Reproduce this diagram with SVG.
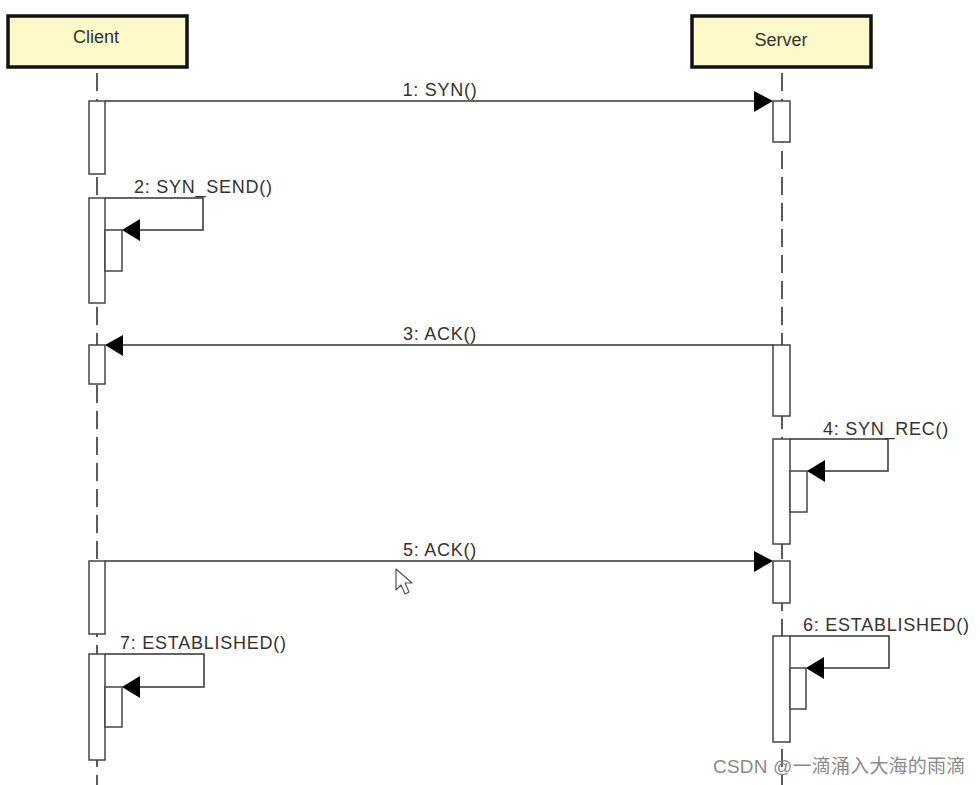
<svg xmlns="http://www.w3.org/2000/svg" width="980" height="785" viewBox="0 0 980 785">
<style>
.box{fill:#fdf9c8;stroke:#111;stroke-width:3.5}
.bt{font-family:"Liberation Sans",Arial,sans-serif;font-size:18px;fill:#333}
.lbl{font-family:"Liberation Sans",Arial,sans-serif;font-size:18px;fill:#333;letter-spacing:0.75px}
.life{stroke:#333;stroke-width:1.6;stroke-dasharray:18 8;fill:none}
.act{fill:#fff;stroke:#444;stroke-width:1.5}
.msg{fill:none;stroke:#333;stroke-width:1.5}
.head{fill:#000}
.wm{font-family:"Liberation Sans","Noto Sans CJK SC",sans-serif;font-size:19px;fill:#8a8a8a;letter-spacing:0.2px}
</style>
<rect width="980" height="785" fill="#fff"/>
<g id="lifelines">
<line class="life" x1="97" y1="73" x2="97" y2="785"/>
<line class="life" x1="782" y1="73" x2="782" y2="785"/>
</g>
<g id="client">
<rect class="box" x="8" y="16" width="179" height="51"/>
<text class="bt" x="96" y="43" text-anchor="middle">Client</text>
</g>
<g id="server">
<rect class="box" x="692" y="16" width="179" height="51"/>
<text class="bt" x="781" y="46" text-anchor="middle">Server</text>
</g>
<g id="activations">
<rect class="act" x="89" y="101" width="16" height="73"/>
<rect class="act" x="89" y="198" width="16" height="105"/>
<rect class="act" x="105" y="230" width="17" height="41"/>
<rect class="act" x="89" y="345" width="16" height="39"/>
<rect class="act" x="89" y="561" width="16" height="73"/>
<rect class="act" x="89" y="654" width="16" height="106"/>
<rect class="act" x="105" y="687" width="17" height="40"/>
<rect class="act" x="773" y="101" width="17" height="41"/>
<rect class="act" x="773" y="345" width="17" height="71"/>
<rect class="act" x="773" y="439" width="17" height="105"/>
<rect class="act" x="790" y="471" width="17" height="41"/>
<rect class="act" x="773" y="561" width="17" height="42"/>
<rect class="act" x="773" y="636" width="17" height="106"/>
<rect class="act" x="790" y="668" width="16" height="41"/>
</g>
<g id="connectors">
<line class="msg" x1="105" y1="101" x2="760" y2="101"/>
<polygon class="head" points="773,101 754,91 754,112"/>
<path class="msg" d="M105,198 H203 V230 H135"/>
<polygon class="head" points="122,230 140,219 140,241"/>
<line class="msg" x1="773" y1="345" x2="118" y2="345"/>
<polygon class="head" points="105,345 123,335 123,356"/>
<path class="msg" d="M790,439 H888 V471 H820"/>
<polygon class="head" points="807,471 825,460 825,482"/>
<line class="msg" x1="105" y1="561" x2="760" y2="561"/>
<polygon class="head" points="773,561 754,551 754,572"/>
<path class="msg" d="M790,636 H889 V668 H819"/>
<polygon class="head" points="806,668 824,657 824,679"/>
<path class="msg" d="M105,654 H204 V687 H135"/>
<polygon class="head" points="122,687 140,676 140,698"/>
</g>
<g id="labels">
<text class="lbl" x="440" y="96" text-anchor="middle">1: SYN()</text>
<text class="lbl" x="134" y="193">2: SYN_SEND()</text>
<text class="lbl" x="440" y="340" text-anchor="middle">3: ACK()</text>
<text class="lbl" x="823" y="435">4: SYN_REC()</text>
<text class="lbl" x="440" y="556" text-anchor="middle">5: ACK()</text>
<text class="lbl" x="803" y="631">6: ESTABLISHED()</text>
<text class="lbl" x="120" y="649">7: ESTABLISHED()</text>
</g>
<g id="cursor">
<path d="M396,569 V590 L401,585 L405,594 L409,592 L405,583 L412,583 Z" fill="#fff" stroke="#555" stroke-width="1.2" stroke-linejoin="round"/>
</g>
<text class="wm" x="713" y="773">CSDN @一滴涌入大海的雨滴</text>
</svg>
